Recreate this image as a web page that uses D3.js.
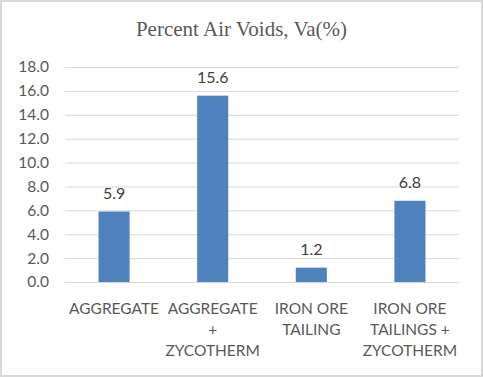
<!DOCTYPE html>
<html>
<head>
<meta charset="utf-8">
<script src="https://cdn.jsdelivr.net/npm/d3@7"></script>
<style>
  body { margin: 0; background: #fff; }
  svg { display: block; }
</style>
</head>
<body>
<div id="chart"></div>
<script>
// data
const categories = ["AGGREGATE", "AGGREGATE + ZYCOTHERM", "IRON ORE TAILING", "IRON ORE TAILINGS + ZYCOTHERM"];
const categoryLines = [["AGGREGATE"], ["AGGREGATE", "+", "ZYCOTHERM"], ["IRON ORE", "TAILING"], ["IRON ORE", "TAILINGS +", "ZYCOTHERM"]];
const airVoids = [5.9, 15.6, 1.2, 6.8];
const yTicks = [0, 2, 4, 6, 8, 10, 12, 14, 16, 18];

const width = 483, height = 377;
const margins = {top: 67, right: 24, bottom: 95, left: 65};

const svg = d3.select("#chart")
    .append("svg")
    .attr("width", width)
    .attr("height", height);

// outer frame
svg.append("rect")
    .attr("x", 1).attr("y", 1)
    .attr("width", width - 2).attr("height", height - 2)
    .attr("fill", "#fff")
    .attr("stroke", "#d9d9d9")
    .attr("stroke-width", 2);

const xScale = d3.scaleBand()
    .domain(categories)
    .range([margins.left, width - margins.right])
    .paddingInner(0.685)
    .paddingOuter(0.34);

const yScale = d3.scaleLinear()
    .domain([0, 18])
    .range([height - margins.bottom, margins.top]);

// gridlines
svg.selectAll("line.grid")
    .data(yTicks)
    .join("line")
    .attr("class", "grid")
    .attr("x1", margins.left)
    .attr("x2", width - margins.right)
    .attr("y1", d => yScale(d) + 0.5)
    .attr("y2", d => yScale(d) + 0.5)
    .attr("stroke", "#d9d9d9")
    .attr("stroke-width", 1);

// y axis labels
const yAxis = svg.append("g")
    .attr("transform", `translate(${margins.left - 16},0)`)
    .call(d3.axisLeft(yScale).tickValues(yTicks).tickFormat(d3.format(".1f")).tickSize(0).tickPadding(0));
yAxis.select(".domain").remove();
yAxis.selectAll("text")
    .attr("fill", "#595959")
    .style("font-family", "Lato, 'Open Sans', sans-serif")
    .style("font-size", "15.5px");

// bars
svg.selectAll("rect.bar")
    .data(airVoids)
    .join("rect")
    .attr("class", "bar")
    .attr("x", (d, i) => xScale(categories[i]))
    .attr("y", d => yScale(d))
    .attr("width", xScale.bandwidth())
    .attr("height", d => yScale(0) - yScale(d))
    .attr("fill", "#4f81bd");

// axis baseline
svg.append("line")
    .attr("x1", margins.left)
    .attr("x2", width - margins.right)
    .attr("y1", yScale(0) + 0.5)
    .attr("y2", yScale(0) + 0.5)
    .attr("stroke", "#d9d9d9");

// value labels
svg.selectAll("text.value")
    .data(airVoids)
    .join("text")
    .attr("class", "value")
    .attr("x", (d, i) => xScale(categories[i]) + xScale.bandwidth() / 2)
    .attr("y", d => yScale(d) - 13)
    .attr("text-anchor", "middle")
    .attr("fill", "#404040")
    .style("font-family", "Lato, 'Open Sans', sans-serif")
    .style("font-size", "16px")
    .text(d => d3.format(".1f")(d));

// category labels
const catLabels = svg.selectAll("text.category")
    .data(categoryLines)
    .join("text")
    .attr("class", "category")
    .attr("x", (d, i) => xScale(categories[i]) + xScale.bandwidth() / 2)
    .attr("y", yScale(0) + 32)
    .attr("text-anchor", "middle")
    .attr("fill", "#595959")
    .style("font-family", "Lato, 'Open Sans', sans-serif")
    .style("font-size", "15.5px");

catLabels.selectAll("tspan")
    .data(d => d)
    .join("tspan")
    .attr("x", function() { return this.parentNode.getAttribute("x"); })
    .attr("dy", (d, i) => i === 0 ? 0 : 21)
    .text(d => d);

// title
svg.append("text")
    .attr("x", width / 2)
    .attr("y", 36)
    .attr("text-anchor", "middle")
    .attr("fill", "#595959")
    .style("font-family", "'Liberation Serif', serif")
    .style("font-size", "21px")
    .text("Percent Air Voids, Va(%)");
</script>
</body>
</html>
